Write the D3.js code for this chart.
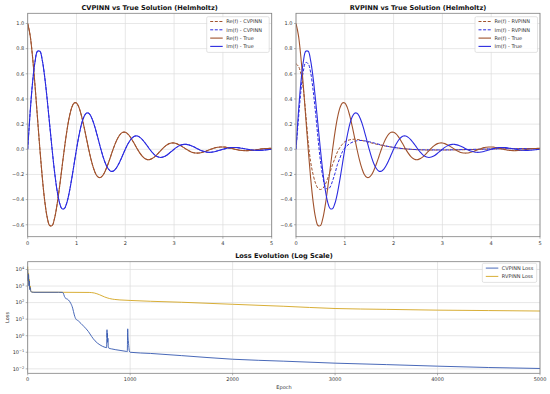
<!DOCTYPE html>
<html>
<head>
<meta charset="utf-8">
<script src="https://cdn.jsdelivr.net/npm/d3@7"></script>
<style>
  body { margin: 0; background: #fff; }
  svg { font-family: "DejaVu Sans", sans-serif; }
</style>
</head>
<body>
<svg id="chart" width="550" height="394"></svg>
<script>
// sample grid of the solution plots (x = 0 .. 5, step 0.05)
var xGrid = d3.range(101).map(function (i) { return +(i * 0.05).toFixed(2); });

// true solution
var reTrue = [1.000, 0.905, 0.732, 0.506, 0.253, 0.000, -0.229, -0.414, -0.542, -0.606,
  -0.607, -0.549, -0.444, -0.307, -0.153, 0.000, 0.139, 0.251, 0.329, 0.368,
  0.368, 0.333, 0.269, 0.186, 0.093, 0.000, -0.084, -0.152, -0.200, -0.223,
  -0.223, -0.202, -0.163, -0.113, -0.057, 0.000, 0.051, 0.092, 0.121, 0.135,
  0.135, 0.122, 0.099, 0.068, 0.034, 0.000, -0.031, -0.056, -0.073, -0.082,
  -0.082, -0.074, -0.060, -0.042, -0.021, 0.000, 0.019, 0.034, 0.045, 0.050,
  0.050, 0.045, 0.036, 0.025, 0.013, 0.000, -0.011, -0.021, -0.027, -0.030,
  -0.030, -0.027, -0.022, -0.015, -0.008, 0.000, 0.007, 0.013, 0.016, 0.018,
  0.018, 0.017, 0.013, 0.009, 0.005, 0.000, -0.004, -0.008, -0.010, -0.011,
  -0.011, -0.010, -0.008, -0.006, -0.003, 0.000, 0.003, 0.005, 0.006, 0.007, 0.007];
var imTrue = [0.000, 0.294, 0.532, 0.696, 0.779, 0.779, 0.705, 0.570, 0.394, 0.197,
  0.000, -0.178, -0.323, -0.422, -0.472, -0.472, -0.427, -0.346, -0.239, -0.120,
  0.000, 0.108, 0.196, 0.256, 0.287, 0.287, 0.259, 0.210, 0.145, 0.073,
  0.000, -0.066, -0.119, -0.155, -0.174, -0.174, -0.157, -0.127, -0.088, -0.044,
  0.000, 0.040, 0.072, 0.094, 0.105, 0.105, 0.095, 0.077, 0.053, 0.027,
  0.000, -0.024, -0.044, -0.057, -0.064, -0.064, -0.058, -0.047, -0.032, -0.016,
  0.000, 0.015, 0.027, 0.035, 0.039, 0.039, 0.035, 0.028, 0.020, 0.010,
  0.000, -0.009, -0.016, -0.021, -0.024, -0.024, -0.021, -0.017, -0.012, -0.006,
  0.000, 0.005, 0.010, 0.013, 0.014, 0.014, 0.013, 0.010, 0.007, 0.004,
  0.000, -0.003, -0.006, -0.008, -0.009, -0.009, -0.008, -0.006, -0.004, -0.002, 0.000];

// CVPINN sits on top of the true curves (hidden under them)
var reCv = reTrue.slice();
var imCv = imTrue.slice();

// RVPINN prediction
var rvX = [0, 0.05, 0.1, 0.15, 0.2, 0.25, 0.3, 0.35, 0.4, 0.45, 0.5, 0.55, 0.6, 0.65, 0.7,
  0.75, 0.8, 0.85, 0.9, 0.95, 1.0, 1.1, 1.2, 1.3, 1.4, 1.5, 1.6, 1.8, 2.0, 2.2, 2.5, 3.0,
  3.5, 4.0, 4.5, 5.0];
var reRv = [0.68, 0.66, 0.60, 0.48, 0.28, 0.06, -0.10, -0.20, -0.27, -0.31, -0.32, -0.31,
  -0.28, -0.23, -0.18, -0.12, -0.07, -0.02, 0.015, 0.04, 0.06, 0.075, 0.08, 0.075, 0.065,
  0.055, 0.045, 0.028, 0.015, 0.005, -0.004, -0.006, -0.003, 0.002, 0.005, 0.006];
var imRv = [0.00, 0.24, 0.46, 0.62, 0.69, 0.68, 0.61, 0.47, 0.29, 0.09, -0.09, -0.22,
  -0.30, -0.32, -0.30, -0.25, -0.19, -0.12, -0.07, -0.02, 0.01, 0.045, 0.063, 0.07, 0.068,
  0.06, 0.05, 0.03, 0.015, 0.005, -0.003, -0.005, -0.002, 0.003, 0.005, 0.006];

// loss histories
var epochsCv = [0, 4, 8, 12, 16, 20, 25, 30, 40, 60, 300, 341, 364, 397, 420, 439, 455, 471,
  494, 520, 549, 592, 624, 657, 705, 754, 770, 774, 776, 778, 780, 783, 786, 790, 819, 901,
  966, 972, 976, 979, 982, 986, 992, 1000, 1200, 1500, 2000, 2500, 3000, 3500, 4000, 4500, 5000];
var lossCv = [10000, 2000, 5000, 1000, 2000, 600, 800, 480, 430, 420, 420, 415, 200, 145, 91,
  46, 18, 10, 7.9, 5.5, 3.6, 1.8, 0.9, 0.49, 0.28, 0.2, 0.19, 2.3, 0.8, 1.4, 0.4, 0.7, 0.25,
  0.18, 0.16, 0.13, 0.112, 0.11, 2.6, 0.9, 0.5, 0.25, 0.12, 0.1, 0.085, 0.063, 0.038, 0.029,
  0.022, 0.018, 0.0145, 0.012, 0.0105];
var epochsRv = [0, 4, 8, 12, 16, 20, 25, 30, 40, 60, 300, 600, 650, 700, 750, 800, 850, 900,
  1000, 1200, 1500, 2000, 2500, 3000, 3500, 4000, 4500, 5000];
var lossRv = [15000, 2500, 6000, 1200, 2500, 700, 1000, 500, 430, 420, 420, 410, 380, 300,
  220, 175, 155, 145, 135, 120, 105, 79, 60, 44, 39, 35, 33, 31];

var xTicks = [0, 1, 2, 3, 4, 5];
var yTicks = [-0.6, -0.4, -0.2, 0.0, 0.2, 0.4, 0.6, 0.8, 1.0];
var epochTicks = [0, 1000, 2000, 3000, 4000, 5000];
var lossTicks = [-2, -1, 0, 1, 2, 3, 4];

var brown = "#a0522d", blue = "#2b2be0";
var cvLossColor = "#3458b0", rvLossColor = "#d4a520";
var gridColor = "#dddddd", frameColor = "#808080", textColor = "#333";

var svg = d3.select("#chart");

function fmtTick(v) {
  return v.toFixed(1).replace("-", "\u2212");
}

function drawFrame(g, x, y, xt, yt, xfmt, yLabel) {
  var w = x.range()[1] - x.range()[0];
  var h = y.range()[0] - y.range()[1];
  //grid
  g.selectAll(".gx").data(xt).enter().append("line")
    .attr("x1", function (d) { return x(d); }).attr("x2", function (d) { return x(d); })
    .attr("y1", y.range()[1]).attr("y2", y.range()[0])
    .attr("stroke", gridColor).attr("stroke-width", 0.7);
  g.selectAll(".gy").data(yt).enter().append("line")
    .attr("y1", function (d) { return y(d); }).attr("y2", function (d) { return y(d); })
    .attr("x1", x.range()[0]).attr("x2", x.range()[1])
    .attr("stroke", gridColor).attr("stroke-width", 0.7);
  //ticks + labels
  g.selectAll(".tx").data(xt).enter().append("line")
    .attr("x1", function (d) { return x(d); }).attr("x2", function (d) { return x(d); })
    .attr("y1", y.range()[0]).attr("y2", y.range()[0] + 2)
    .attr("stroke", frameColor).attr("stroke-width", 0.6);
  g.selectAll(".lx").data(xt).enter().append("text")
    .attr("x", function (d) { return x(d); })
    .attr("y", y.range()[0] + 8)
    .attr("text-anchor", "middle")
    .attr("font-size", 5).attr("fill", textColor)
    .text(xfmt);
  g.selectAll(".ty").data(yt).enter().append("line")
    .attr("y1", function (d) { return y(d); }).attr("y2", function (d) { return y(d); })
    .attr("x1", x.range()[0] - 2).attr("x2", x.range()[0])
    .attr("stroke", frameColor).attr("stroke-width", 0.6);
  var ly = g.selectAll(".ly").data(yt).enter().append("text")
    .attr("x", x.range()[0] - 3.5)
    .attr("y", function (d) { return y(d) + 1.8; })
    .attr("text-anchor", "end")
    .attr("font-size", 5).attr("fill", textColor);
  yLabel(ly);
}

function drawBox(g, x, y) {
  g.append("rect")
    .attr("x", x.range()[0]).attr("y", y.range()[1])
    .attr("width", x.range()[1] - x.range()[0])
    .attr("height", y.range()[0] - y.range()[1])
    .attr("fill", "none").attr("stroke", frameColor).attr("stroke-width", 0.8);
}

function drawLegend(g, x0, y0, w, items) {
  var rowH = 8.3;
  g.append("rect")
    .attr("x", x0).attr("y", y0)
    .attr("width", w).attr("height", items.length * rowH + 2.5)
    .attr("rx", 1.5)
    .attr("fill", "#fff").attr("fill-opacity", 0.85)
    .attr("stroke", "#d0d0d0").attr("stroke-width", 0.6);
  items.forEach(function (it, i) {
    var cy = y0 + 4.8 + i * rowH;
    g.append("line")
      .attr("x1", x0 + 3.5).attr("x2", x0 + 16)
      .attr("y1", cy).attr("y2", cy)
      .attr("stroke", it.color).attr("stroke-width", it.width)
      .attr("stroke-dasharray", it.dash ? "3,1.6" : null);
    g.append("text")
      .attr("x", x0 + 19.5).attr("y", cy + 1.8)
      .attr("font-size", 5).attr("fill", textColor)
      .text(it.label);
  });
}

//Solution panels
function solutionPanel(left, right, title, nameTag, reP, imP, px) {
  var x = d3.scaleLinear().domain([0, 5]).range([left, right]);
  var y = d3.scaleLinear().domain([-0.695, 1.081]).range([236.7, 13.3]);
  var g = svg.append("g");
  drawFrame(g, x, y, xTicks, yTicks, function (d) { return d; },
    function (sel) { sel.text(fmtTick); });

  var line = d3.line()
    .x(function (d) { return x(d[0]); })
    .y(function (d) { return y(d[1]); })
    .curve(d3.curveCatmullRom);

  var clip = "clip" + nameTag;
  g.append("clipPath").attr("id", clip).append("rect")
    .attr("x", left).attr("y", 13.3).attr("width", right - left).attr("height", 223.4);
  var lines = g.append("g").attr("clip-path", "url(#" + clip + ")");

  var series = [
    { xs: px, ys: reP, color: brown, dash: true, width: 1.0 },
    { xs: px, ys: imP, color: blue, dash: true, width: 1.0 },
    { xs: xGrid, ys: reTrue, color: brown, dash: false, width: 1.1 },
    { xs: xGrid, ys: imTrue, color: blue, dash: false, width: 1.1 }
  ];
  series.forEach(function (s) {
    lines.append("path")
      .datum(s.xs.map(function (v, i) { return [v, s.ys[i]]; }))
      .attr("d", line)
      .attr("fill", "none")
      .attr("stroke", s.color)
      .attr("stroke-width", s.width)
      .attr("stroke-dasharray", s.dash ? "3,1.6" : null);
  });
  drawBox(g, x, y);

  g.append("text")
    .attr("x", (left + right) / 2).attr("y", 9.6)
    .attr("text-anchor", "middle")
    .attr("font-size", 6.6).attr("font-weight", "bold").attr("fill", "#111")
    .text(title);

  drawLegend(g, right - 65, 16.7, 62.5, [
    { label: "Re(f) - " + nameTag, color: brown, dash: true, width: 1 },
    { label: "Im(f) - " + nameTag, color: blue, dash: true, width: 1 },
    { label: "Re(f) - True", color: brown, dash: false, width: 1.1 },
    { label: "Im(f) - True", color: blue, dash: false, width: 1.1 }
  ]);
}

solutionPanel(27.7, 271.7, "CVPINN vs True Solution (Helmholtz)", "CVPINN", reCv, imCv, xGrid);
solutionPanel(296, 540, "RVPINN vs True Solution (Helmholtz)", "RVPINN", reRv, imRv, rvX);

//Loss panel
(function () {
  var x = d3.scaleLinear().domain([0, 5000]).range([27.7, 540]);
  var y = d3.scaleLog().domain([Math.pow(10, -2.27), Math.pow(10, 4.47)]).range([373.3, 261.7]);
  var g = svg.append("g");
  var yt = lossTicks.map(function (p) { return Math.pow(10, p); });
  drawFrame(g, x, y, epochTicks, yt, function (d) { return d; }, function (sel) {
    sel.text("10").append("tspan")
      .attr("dy", -2).attr("font-size", 3.5)
      .text(function (d) { return String(Math.round(Math.log10(d))).replace("-", "\u2212"); });
  });

  var line = d3.line()
    .x(function (d) { return x(d[0]); })
    .y(function (d) { return y(d[1]); })
    .curve(d3.curveMonotoneX);

  g.append("path")
    .datum(epochsRv.map(function (e, i) { return [e, lossRv[i]]; }))
    .attr("d", line).attr("fill", "none")
    .attr("stroke", rvLossColor).attr("stroke-width", 0.9);
  g.append("path")
    .datum(epochsCv.map(function (e, i) { return [e, lossCv[i]]; }))
    .attr("d", line).attr("fill", "none")
    .attr("stroke", cvLossColor).attr("stroke-width", 0.9);

  drawBox(g, x, y);

  g.append("text")
    .attr("x", 284).attr("y", 258)
    .attr("text-anchor", "middle")
    .attr("font-size", 6.6).attr("font-weight", "bold").attr("fill", "#111")
    .text("Loss Evolution (Log Scale)");
  g.append("text")
    .attr("x", 284).attr("y", 389)
    .attr("text-anchor", "middle")
    .attr("font-size", 5).attr("fill", textColor)
    .text("Epoch");
  g.append("text")
    .attr("transform", "translate(8.5,317.5) rotate(-90)")
    .attr("text-anchor", "middle")
    .attr("font-size", 5).attr("fill", textColor)
    .text("Loss");

  drawLegend(g, 482.3, 263.3, 54.4, [
    { label: "CVPINN Loss", color: cvLossColor, dash: false, width: 0.9 },
    { label: "RVPINN Loss", color: rvLossColor, dash: false, width: 0.9 }
  ]);
})();
</script>
</body>
</html>
